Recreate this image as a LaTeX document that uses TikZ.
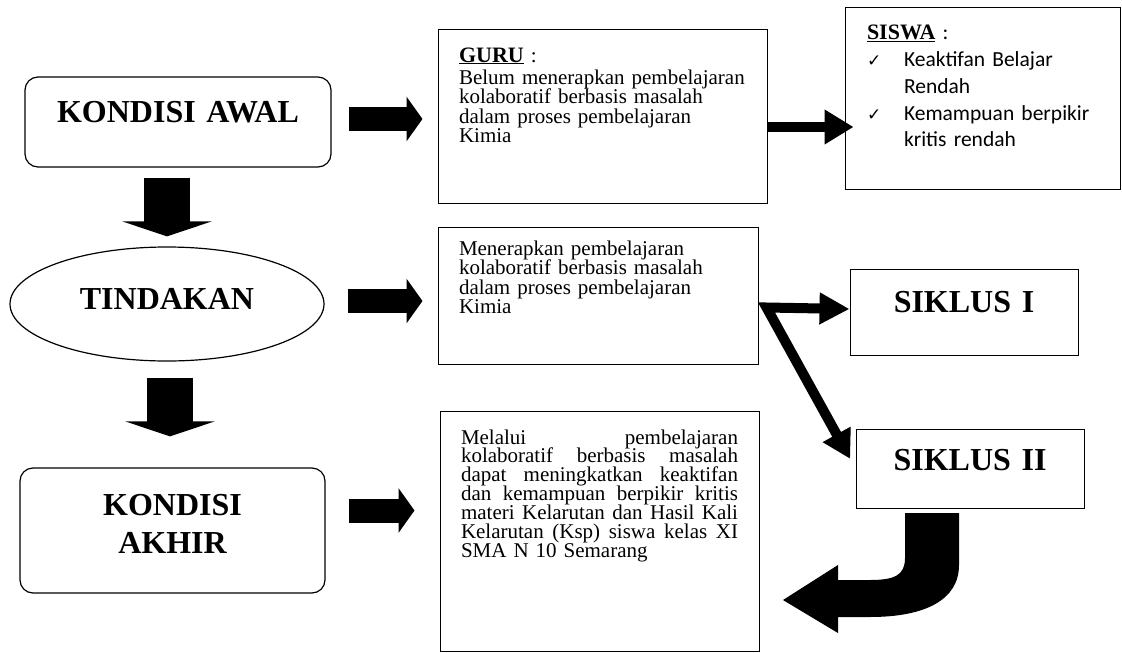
\documentclass[tikz,border=0pt]{standalone}
\usepackage{fontspec}
\setmainfont{Liberation Serif}
\newfontfamily\calibri{Carlito}
\newfontfamily\symbols{DejaVu Sans}
\usetikzlibrary{arrows.meta,shapes.geometric}
\newcommand{\bigtxt}{\fontsize{32}{38}\selectfont\bfseries}
\newcommand{\bodytxt}{\fontsize{21}{19.6}\selectfont\lineskiplimit=-50pt}
\newcommand{\akhirtxt}{\fontsize{21}{18.9}\selectfont\lineskiplimit=-50pt}
\newcommand{\siswatxt}{\calibri\fontsize{21.5}{27}\selectfont}
\newcommand{\jline}[1]{{\spaceskip=0pt\xspaceskip=0pt\makebox[277pt][s]{#1}}\\}
\newcommand{\cek}{\makebox[37pt][l]{\symbols\fontsize{17}{27}\selectfont ✓}}
\tikzset{
  kondisi/.style={draw, rounded corners=13pt, line width=1.2pt, inner sep=0pt, align=center, font=\bigtxt},
  isi/.style={draw, line width=1pt, inner xsep=21pt, inner ysep=0pt, align=left, font=\bodytxt},
  siklus/.style={draw, line width=1pt, inner sep=0pt, align=center, font=\bigtxt},
  blok/.style={line width=24pt, -{Triangle[length=16pt,width=44pt]}},
  turun/.style={line width=46pt, -{Triangle[length=15pt,width=89pt]}},
  panah/.style={line width=10pt, -{Triangle[length=29pt,width=33pt]}}
}
\begin{document}
\begin{tikzpicture}[x=1pt, y=-1pt]
\useasboundingbox (0,0) rectangle (1122,653);
\node[kondisi, text width=306pt, text height=45pt, text depth=45pt] (kawal) at (178,122) {KONDISI AWAL};
\node[draw, ellipse, line width=1.2pt, inner sep=0pt, minimum width=314pt, minimum height=114pt, text height=15pt, text depth=5pt, font=\bigtxt] (tindakan) at (167,304) {TINDAKAN};
\node[kondisi, text width=305pt, text height=47pt, text depth=78pt] (kakhir) at (172.5,530.5) {KONDISI\\AKHIR};
\node[isi, text width=287pt, text height=33pt, text depth=141pt] (guru) at (602.5,116) {{\fontsize{22}{22}\selectfont\bfseries\underline{GURU}} :\\[2.5pt]
  Belum menerapkan pembelajaran\\
  kolaboratif berbasis masalah\\
  dalam proses pembelajaran\\
  Kimia};
\node[isi, text width=278pt, text height=28pt, text depth=109pt] (tind) at (598,295.5) {Menerapkan pembelajaran\\
  kolaboratif berbasis masalah\\
  dalam proses pembelajaran\\
  Kimia};
\node[isi, text width=277pt, text height=33pt, text depth=207pt, font=\akhirtxt] (akhir) at (599.5,531) {\jline{Melalui pembelajaran}
  \jline{kolaboratif berbasis masalah}
  \jline{dapat meningkatkan keaktifan}
  \jline{dan kemampuan berpikir kritis}
  \jline{materi Kelarutan dan Hasil Kali}
  \jline{Kelarutan (Ksp) siswa kelas XI}
  SMA N 10 Semarang};
\node[draw, line width=1pt, inner xsep=22pt, inner ysep=0pt, align=left, text width=231pt, text height=32pt, text depth=150pt, font=\siswatxt] (siswa) at (982.5,98) {{\rmfamily\fontsize{22}{27}\selectfont\bfseries\underline{SISWA}} :\\
  \cek Keaktifan Belajar\\
  \hspace*{37pt}Rendah\\
  \cek Kemampuan berpikir\\
  \hspace*{37pt}kritis rendah};
\node[siklus, text width=228pt, text height=43pt, text depth=43pt] (siklus1) at (964,312) {SIKLUS I};
\node[siklus, text width=228pt, text height=41pt, text depth=38pt] (siklus2) at (970,468.5) {SIKLUS II};
\coordinate (cabang) at ([xshift=8pt, yshift=-12pt]tind.east);
\draw[blok, shorten <=17pt, shorten >=15pt] ([yshift=3pt]kawal.east) -- ([yshift=3pt]kawal.east -| guru.west);
\draw[blok, shorten <=23pt, shorten >=15pt] ([yshift=3pt]tindakan.east) -- ([yshift=3pt]tindakan.east -| tind.west);
\draw[blok, shorten <=23pt, shorten >=25pt] ([yshift=20pt]kakhir.east) -- ([yshift=20pt]kakhir.east -| akhir.west);
\draw[turun, shorten <=10pt, shorten >=10pt] (kawal.south -| tindakan.north) -- (tindakan.north);
\draw[turun, shorten <=16pt, shorten >=31pt] ([xshift=3pt]tindakan.south) -- ([xshift=3pt]tindakan.south |- kakhir.north);
\draw[panah, shorten >=-9pt] ([yshift=-11pt]guru.east) -- ([yshift=-11pt]guru.east -| siswa.west);
\draw[line width=10pt, {Triangle[length=30pt,width=30pt]}-{Triangle[length=28pt,width=30pt]}, shorten <=0pt, shorten >=11pt] ([yshift=3pt]siklus1.west) -- (cabang) -- (siklus2.west);
\fill (905,513) -- (959,513) -- (959,565) .. controls (959,600) and (925,617) .. (870,617) -- (838,617) -- (838,633) -- (783,600) -- (838,565) -- (838,580) -- (870,580) .. controls (895,580) and (905,575) .. (905,558) -- cycle;
\end{tikzpicture}
\end{document}
